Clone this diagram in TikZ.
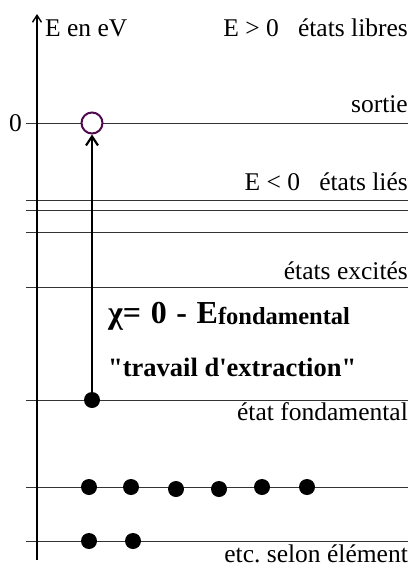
\documentclass[tikz,border=0pt]{standalone}
\usepackage{fontspec}
\setmainfont{Liberation Serif}[Ligatures=TeXOff]
\usetikzlibrary{arrows.meta, positioning}
\definecolor{HolePurple}{HTML}{500A50}
\definecolor{LevelGray}{HTML}{333333}
\frenchspacing
\tikzset{
    % axis and energy levels
    energyaxis/.style={
        line width=1.6pt,
        -{Straight Barb[length=7pt, width=9pt, line width=1.4pt]}
    },
    levelline/.style={
        line width=1pt,
        draw=LevelGray
    },
    % electrons and the hole left at E = 0
    electron/.style={
        circle,
        fill=black,
        inner sep=0pt,
        minimum size=16pt
    },
    hole/.style={
        circle,
        draw=HolePurple,
        fill=white,
        line width=2pt,
        inner sep=0pt,
        minimum size=21pt
    },
    jump/.style={
        line width=2.2pt,
        -{Straight Barb[length=9pt, width=12pt, line width=2.2pt]},
        shorten <=-4pt
    },
    % texts
    levellabel/.style={
        inner sep=0pt,
        font=\fontsize{25.5}{30}\selectfont
    },
    formula/.style={
        inner sep=0pt,
        font=\fontsize{32}{36}\selectfont\bfseries
    },
    quote/.style={
        inner sep=0pt,
        font=\fontsize{26.5}{31}\selectfont\bfseries
    }
}

\begin{document}
\begin{tikzpicture}[x=1pt, y=-1pt]
    \useasboundingbox (0,0) rectangle (412,570);

    % energy levels
    \foreach \y in {123,200,210,232,287,400,487,541}
        \draw[levelline] (26,\y) -- (408,\y);

    % energy axis
    \coordinate (axisbot) at (37,560);
    \coordinate (axistop) at (37,14);
    \draw[energyaxis] (axisbot) -- (axistop);

    \node[levellabel, anchor=base west] (unit) at (45,36) {E en eV};
    \node[levellabel, anchor=base east] (free) at (408,36) {E > 0\hspace{0.75em}états libres};
    \node[levellabel, anchor=base east] (zero) at (22,131) {0};
    \node[levellabel, anchor=base east] (exit) at (408,112) {sortie};
    \node[levellabel, anchor=base east] (bound) at (408,190) {E < 0\hspace{0.75em}états liés};
    \node[levellabel, anchor=base east] (excited) at (408,279) {états excités};
    \node[levellabel, anchor=base east] (ground) at (408,420) {état fondamental};
    \node[levellabel, anchor=base east] (etc) at (408,562) {etc. selon élément};

    % electrons
    \node[hole] (hole) at (92,123) {};
    \node[electron] (fond) at (92,400) {};
    \foreach \x/\y [count=\i] in {89/487,131/487,176/489,219/489,262/487,307/487}
        \node[electron] (eb\i) at (\x,\y) {};
    \foreach \x/\y [count=\i] in {89/541,133/541}
        \node[electron] (ec\i) at (\x,\y) {};

    \draw[jump] (fond) -- (hole);

    \node[formula, anchor=base west] (chi) at (108,323)
        {χ=\hspace{0.3em}0\hspace{0.3em}-\hspace{0.3em}E\raisebox{-1pt}{\fontsize{24.5}{28}\selectfont fondamental}};
    \node[quote, anchor=base west] (work) at (108,376) {"travail d'extraction"};
\end{tikzpicture}
\end{document}
